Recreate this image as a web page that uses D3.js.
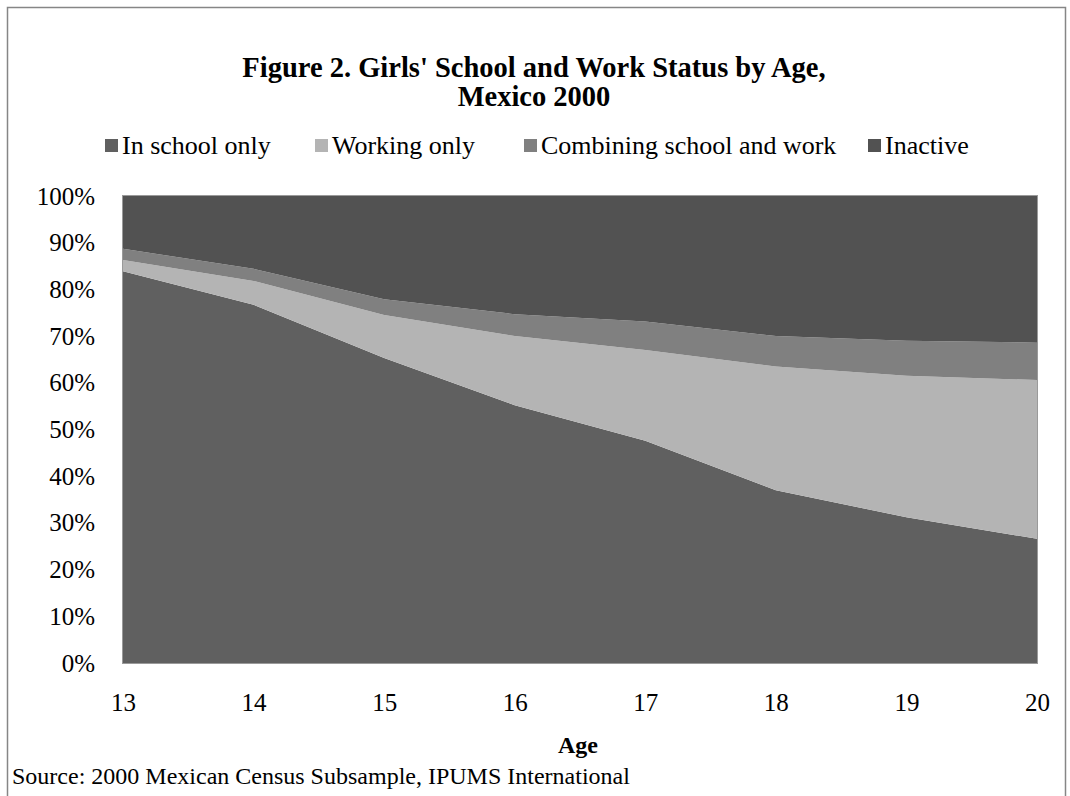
<!DOCTYPE html>
<html>
<head>
<meta charset="utf-8">
<script src="https://cdn.jsdelivr.net/npm/d3@7"></script>
<style>
  html, body { margin: 0; padding: 0; background: #fff; }
  svg { display: block; font-family: "Liberation Serif", "Times New Roman", serif; }
</style>
</head>
<body>
<svg id="chart" width="1070" height="796"></svg>
<script>
// Share of girls (%) by activity, ages 13 to 20
const ages = [13, 14, 15, 16, 17, 18, 19, 20];
const inSchoolOnly = [83.9, 76.7, 65.3, 55.2, 47.6, 37.0, 31.2, 26.6];
const workingOnly = [2.4, 5.1, 9.2, 14.8, 19.4, 26.5, 30.3, 34.0];
const combining = [2.4, 2.6, 3.4, 4.7, 6.1, 6.5, 7.5, 8.0];
const inactive = [11.3, 15.6, 22.1, 25.3, 26.9, 30.0, 31.0, 31.4];

const seriesNames = ["In school only", "Working only", "Combining school and work", "Inactive"];
const seriesColors = ["#606060", "#b4b4b4", "#808080", "#525252"];
const yTicks = [0, 10, 20, 30, 40, 50, 60, 70, 80, 90, 100];

const svg = d3.select("#chart");
const plot = { left: 123, right: 1037, top: 196, bottom: 663 };
const serif = "Liberation Serif, Times New Roman, serif";

// outer frame
svg.append("rect")
  .attr("x", 7.5).attr("y", 7.5)
  .attr("width", 1058).attr("height", 800)
  .attr("fill", "#fff").attr("stroke", "#868686").attr("stroke-width", 1.5);

// title
const title = svg.append("text")
  .attr("text-anchor", "middle")
  .attr("font-weight", "bold")
  .attr("font-size", 28.5)
  .attr("fill", "#000");
title.append("tspan").attr("x", 534).attr("y", 77).text("Figure 2. Girls' School and Work Status by Age,");
title.append("tspan").attr("x", 534).attr("y", 106).text("Mexico 2000");

// table of rows for the stack
const rows = ages.map((a, i) => ({
  age: a,
  [seriesNames[0]]: inSchoolOnly[i],
  [seriesNames[1]]: workingOnly[i],
  [seriesNames[2]]: combining[i],
  [seriesNames[3]]: inactive[i]
}));

const stacked = d3.stack().keys(seriesNames)(rows);

const x = d3.scaleLinear().domain([13, 20]).range([plot.left, plot.right]);
const y = d3.scaleLinear().domain([0, 100]).range([plot.bottom, plot.top]);

const area = d3.area()
  .x(d => x(d.data.age))
  .y0(d => y(d[0]))
  .y1(d => y(d[1]));

svg.append("g")
  .selectAll("path")
  .data(stacked)
  .join("path")
  .attr("d", area)
  .attr("fill", (d, i) => seriesColors[i]);

// plot-area border
svg.append("rect")
  .attr("x", plot.left - 0.5).attr("y", plot.top - 0.5)
  .attr("width", plot.right - plot.left + 1).attr("height", plot.bottom - plot.top + 1)
  .attr("fill", "none").attr("stroke", "#9a9a9a").attr("stroke-width", 1);

// y axis
const yAxis = d3.axisLeft(y)
  .tickValues(yTicks)
  .tickFormat(d => d + "%")
  .tickSize(0)
  .tickPadding(28);
const gy = svg.append("g")
  .attr("transform", `translate(${plot.left},0)`)
  .call(yAxis);
gy.select(".domain").remove();
gy.selectAll("text")
  .attr("font-family", serif)
  .attr("font-size", 25)
  .attr("fill", "#000");

// x axis
const xAxis = d3.axisBottom(x)
  .tickValues(ages)
  .tickFormat(d3.format("d"))
  .tickSize(0)
  .tickPadding(30);
const gx = svg.append("g")
  .attr("transform", `translate(0,${plot.bottom})`)
  .call(xAxis);
gx.select(".domain").remove();
gx.selectAll("text")
  .attr("font-family", serif)
  .attr("font-size", 25)
  .attr("fill", "#000");

// x axis title
svg.append("text")
  .attr("x", 578).attr("y", 753)
  .attr("text-anchor", "middle")
  .attr("font-weight", "bold")
  .attr("font-size", 24)
  .text("Age");

// legend
const legendItems = [
  { name: seriesNames[0], color: seriesColors[0], x: 105 },
  { name: seriesNames[1], color: seriesColors[1], x: 315 },
  { name: seriesNames[2], color: seriesColors[2], x: 524 },
  { name: seriesNames[3], color: seriesColors[3], x: 868 }
];
const lg = svg.append("g").selectAll("g").data(legendItems).join("g")
  .attr("transform", d => `translate(${d.x},146)`);
lg.append("rect")
  .attr("x", 0).attr("y", -7)
  .attr("width", 13).attr("height", 13)
  .attr("fill", d => d.color);
lg.append("text")
  .attr("x", 17).attr("y", 8)
  .attr("font-size", 26)
  .text(d => d.name);

// source note
svg.append("text")
  .attr("x", 12).attr("y", 784)
  .attr("font-size", 24)
  .text("Source: 2000 Mexican Census Subsample, IPUMS International");
</script>
</body>
</html>
